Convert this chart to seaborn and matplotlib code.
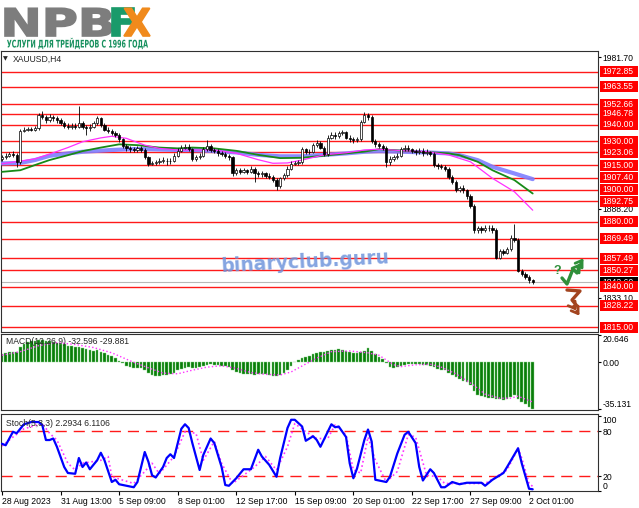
import numpy as np
import pandas as pd
import seaborn as sns
import matplotlib.pyplot as plt
from matplotlib.patches import Rectangle, PathPatch
from matplotlib.transforms import blended_transform_factory, Affine2D
from matplotlib.textpath import TextPath
from matplotlib.font_manager import FontProperties

sns.set_style('white')
plt.rcParams['font.family'] = ['Liberation Sans', 'DejaVu Sans']

# XAUUSD H4 bars
first_open = 1919.0
closes = [
    1920, 1921, 1922, 1921.5, 1917, 1936.5, 1937, 1937.5, 1937, 1938,
    1946, 1945, 1943, 1945, 1944, 1943, 1941.5, 1939.5, 1939, 1939.5,
    1939, 1941, 1939, 1938, 1939, 1941, 1944, 1940, 1937, 1936.5,
    1935, 1934, 1931, 1927, 1925.5, 1925, 1924.5, 1925.5, 1924.5, 1920,
    1916, 1916.5, 1917, 1918, 1918, 1917.5, 1918, 1921, 1924, 1926,
    1926.5, 1925, 1919, 1920, 1921, 1925, 1927, 1924.5, 1924, 1922.5,
    1922, 1921, 1920, 1910, 1912, 1911, 1912, 1911, 1913, 1910,
    1909.5, 1910, 1908.5, 1908, 1906, 1902, 1907, 1909, 1913, 1916,
    1916.5, 1917, 1925, 1923, 1923.5, 1927.5, 1929, 1926, 1922, 1932,
    1934, 1933, 1935, 1935.5, 1932, 1931, 1930.5, 1931, 1942, 1946,
    1945, 1930, 1928, 1927, 1926, 1917, 1919, 1920, 1921, 1925,
    1926, 1925, 1924, 1923, 1924, 1922.5, 1923, 1922, 1915, 1914.5,
    1914, 1913, 1908, 1905, 1900, 1901, 1899.5, 1896, 1890, 1875,
    1876, 1875, 1876, 1876.5, 1875, 1858, 1862, 1861, 1863, 1870,
    1869, 1850, 1848, 1846, 1844, 1843]
highs = [
    1921.5, 1922.5, 1923.5, 1924, 1922.5, 1937.5, 1938.5, 1939, 1939, 1939.5,
    1947.5, 1948.5, 1946, 1946.5, 1946, 1945.5, 1944, 1942.5, 1941, 1941,
    1941, 1952, 1942.5, 1940, 1940.5, 1942.5, 1945.5, 1945, 1941, 1938.5,
    1937.5, 1936.5, 1935, 1932, 1928, 1927, 1926.5, 1927, 1927, 1925.5,
    1921, 1918, 1918.5, 1919.5, 1920, 1919.5, 1919.5, 1922.5, 1925.5, 1927.5,
    1928, 1928, 1926, 1921.5, 1922.5, 1926.5, 1930.5, 1928, 1926, 1925,
    1924, 1923, 1922, 1921, 1913.5, 1913.5, 1913.5, 1913, 1914.5, 1914,
    1911.5, 1911.5, 1911, 1910, 1909, 1907, 1908, 1910.5, 1914.5, 1917.5,
    1918, 1918.5, 1926.5, 1926, 1925, 1929, 1930.5, 1930, 1927, 1933.5,
    1935.5, 1935.5, 1936.5, 1937, 1936.5, 1933.5, 1932.5, 1932.5, 1943, 1948,
    1947.5, 1946, 1931, 1929.5, 1928.5, 1927, 1920.5, 1921.5, 1922.5, 1926.5,
    1927.5, 1927.5, 1926, 1925, 1926, 1925.5, 1925, 1924, 1923, 1916.5,
    1916, 1915, 1914, 1909, 1906, 1902.5, 1903, 1900.5, 1897, 1891,
    1877.5, 1877.5, 1878, 1878, 1878, 1876, 1863.5, 1863.5, 1864.5, 1872,
    1879, 1870, 1851, 1849, 1847, 1845]
lows = [
    1917.5, 1919, 1920, 1920, 1914, 1916, 1935.5, 1936, 1936, 1936,
    1937, 1943.5, 1941.5, 1942, 1942.5, 1941.5, 1940, 1938, 1937.5, 1937.5,
    1937.5, 1938, 1937.5, 1933.5, 1936.5, 1938, 1940, 1939, 1936, 1935,
    1933.5, 1932.5, 1929.5, 1925.5, 1924, 1923.5, 1923, 1923, 1923, 1919,
    1914.5, 1915, 1915, 1916, 1916.5, 1915.5, 1916, 1917, 1920, 1923,
    1925, 1924, 1918, 1917.5, 1919, 1920, 1924, 1923.5, 1922.5, 1921,
    1920.5, 1919.5, 1918.5, 1908.5, 1909, 1909.5, 1910, 1909.5, 1910, 1905,
    1908, 1908, 1907, 1906.5, 1904.5, 1899.5, 1901, 1906, 1908, 1912,
    1915, 1915, 1916, 1922, 1922, 1922.5, 1926.5, 1925, 1921, 1921,
    1931, 1931.5, 1932, 1934, 1931, 1929.5, 1929, 1929.5, 1930, 1941,
    1943, 1929, 1926.5, 1925.5, 1924.5, 1914, 1915.5, 1918, 1919, 1920,
    1924, 1924, 1922.5, 1921.5, 1922, 1921, 1921.5, 1920.5, 1914, 1913,
    1912.5, 1911.5, 1906.5, 1903.5, 1898.5, 1898.5, 1898, 1894.5, 1888.5, 1873.5,
    1873.5, 1873.5, 1874, 1874.5, 1873.5, 1857, 1857, 1859.5, 1860, 1862,
    1867.5, 1849, 1846.5, 1844.5, 1842.5, 1841.5]

levels = [1972.85, 1963.55, 1952.66, 1946.78, 1940.00, 1930.00, 1923.06, 1915.00,
          1907.40, 1900.00, 1892.75, 1880.00, 1869.49, 1857.49, 1850.27, 1840.00,
          1828.22, 1815.00]
scale_ticks = [1981.70, 1888.20, 1833.10]
bid = 1842.6

# moving averages (bar index, value)
ma_slow_bar = [0, 5, 9, 13, 18, 22, 30, 36, 40, 48, 52, 58, 64, 70, 76, 82, 88, 94, 99,
               103, 110, 116, 122, 125, 130, 134, 140, 145]
ma_slow_val = [1916.2, 1916.5, 1918.3, 1920.9, 1922.4, 1923.4, 1924.5, 1925.1, 1925, 1924.5,
               1924.5, 1923.8, 1923, 1921.5, 1920.6, 1920.6, 1921.5, 1922.4, 1923.4,
               1923.8, 1923.4, 1923, 1922.4, 1921.3, 1918.2, 1914.1, 1910, 1906.5]
ma_mid_bar = [0, 5, 9, 13, 18, 22, 27, 32, 37, 43, 48, 52, 58, 64, 70, 76, 82, 88, 94, 99,
              103, 110, 116, 122, 125, 130, 134, 140, 145]
ma_mid_val = [1911, 1912, 1915.2, 1918.3, 1921.3, 1923.8, 1926, 1928, 1927.5, 1926, 1925.5,
              1926, 1925.5, 1924, 1921.5, 1919.5, 1919.7, 1921, 1922.4, 1923.5,
              1925, 1924, 1923.2, 1922.4, 1921.3, 1917.2, 1912, 1905.9, 1897.6]
ma_fast_bar = [0, 9, 13, 18, 22, 27, 30, 34, 39, 43, 48, 52, 58, 64, 70, 74, 78, 82, 88, 94,
               99, 103, 110, 116, 122, 128, 134, 140, 145]
ma_fast_val = [1916, 1919, 1922, 1926, 1929.6, 1932, 1933, 1931.7, 1927.5, 1925.5, 1924.5,
               1924.5, 1924.5, 1922.5, 1918.5, 1916.3, 1916.5, 1918.3, 1921.5, 1922.8,
               1924.5, 1925, 1924, 1923.5, 1921.5, 1917.2, 1907, 1898.7, 1887.3]

# MACD histogram per bar and signal line
macd_hist = [
    6.3, 6.8, 7.6, 8.1, 7.6, 11.4, 14.0, 15.3, 15.8, 15.8,
    16.5, 16.6, 16.0, 15.8, 15.3, 14.7, 14.0, 13.5, 12.7, 12.2,
    11.9, 11.9, 10.6, 10.1, 9.6, 8.9, 9.4, 8.1, 7.1, 5.9,
    4.6, 3.1, 1.4, -0.5, -2.4, -3.7, -4.1, -4.1, -4.4, -5.4,
    -7.9, -9.5, -9.9, -9.9, -9.5, -9.2, -8.6, -7.9, -6.1, -4.9,
    -4.1, -3.6, -4.4, -4.1, -3.6, -2.4, -1.6, -1.4, -1.9, -1.9,
    -2.4, -2.9, -3.6, -6.1, -7.4, -8.1, -8.9, -8.9, -8.9, -9.2,
    -8.9, -8.9, -8.9, -9.5, -10.4, -9.9, -9.5, -7.9, -5.4, -2.4,
    0.1, 1.8, 3.1, 3.9, 5.1, 6.4, 6.8, 7.6, 7.6, 8.9,
    9.4, 9.6, 10.2, 9.6, 8.6, 7.6, 7.1, 7.1, 7.6, 8.9,
    10.6, 8.4, 6.4, 3.9, 2.2, -0.6, -3.6, -4.1, -3.6, -2.4,
    -1.9, -1.4, -1.2, -1.4, -1.4, -1.6, -1.9, -2.4, -3.6, -4.9,
    -5.4, -6.1, -7.9, -9.5, -11.2, -12.4, -13.7, -14.9, -16.9, -21.2,
    -24.5, -25.5, -26.2, -26.7, -27.0, -27.5, -27.5, -28.0, -27.5, -26.2,
    -24.9, -27.5, -30.0, -31.2, -33.5, -35.1]
macd_sig_bar = [0, 5, 10, 15, 20, 25, 30, 33, 36, 40, 44, 48, 52, 56, 60, 64, 68, 72, 76,
                79, 82, 86, 90, 95, 100, 103, 105, 107, 109, 113, 117, 120, 124, 129,
                132, 136, 139, 141, 145]
macd_sig_val = [5.4, 8.1, 12.6, 14.9, 13.5, 11.2, 7.2, 3.6, 0, -4.1, -8.1, -8.6, -5.9, -3.6,
                -2.5, -4.5, -7.7, -9, -9.5, -7.2, -2.7, 3.2, 8.1, 8.6, 7.2, 5.4, 1.8,
                -1.8, -3.2, -1.8, -1.4, -3.6, -8.6, -17.4, -24, -27, -27, -25.5, -29.9]

# Stochastic(5,3,3) main and signal (bar index, value)
st_main_bar = [0, 1, 2, 3, 4, 5, 6, 8, 10, 11, 12, 13, 14, 15, 17, 18, 20, 21, 22, 23, 24,
               26, 27, 28, 30, 31, 32, 34, 36, 37, 39, 40, 41, 42, 44, 45, 46, 47, 49, 50,
               51, 52, 54, 55, 57, 58, 60, 61, 62, 64, 66, 68, 70, 71, 73, 75, 76, 78, 79,
               80, 82, 83, 85, 86, 87, 90, 91, 92, 94, 95, 96, 97, 99, 100, 101, 102, 105,
               106, 108, 110, 111, 113, 114, 115, 117, 118, 120, 121, 123, 125, 127, 131,
               132, 134, 137, 138, 141, 142, 144, 145]
st_main_val = [63, 61, 70, 79, 77, 83, 89, 92, 92, 88, 68, 68, 70, 59, 32, 24, 23, 44, 32, 38,
               29, 41, 51, 41, 12, 15, 9, 7, 5, 12, 52, 39, 21, 18, 32, 44, 49, 44, 83, 89,
               84, 64, 28, 48, 70, 64, 32, 8, 7, 17, 29, 29, 55, 46, 35, 19, 44, 84, 95,
               95, 86, 67, 73, 68, 59, 89, 85, 86, 72, 37, 17, 30, 68, 82, 66, 15, 12,
               19, 50, 75, 79, 64, 32, 14, 29, 24, 5, 5, 12, 9, 11, 11,
               7, 15, 24, 32, 57, 37, 3, 2.29]
st_sig_bar = [0, 3, 6, 11, 13, 15, 18, 20, 22, 27, 29, 30, 36, 39, 41, 43, 47, 50, 53, 55,
              58, 60, 63, 66, 69, 72, 75, 78, 80, 83, 86, 89, 91, 94, 96, 98, 100, 102,
              105, 108, 111, 113, 116, 119, 121, 123, 132, 135, 138, 141, 142, 144, 145]
st_sig_val = [60, 72, 83, 90, 77, 68, 37, 28, 37, 41, 46, 19, 10, 26, 37, 23, 46, 79, 77, 41,
              66, 37, 10, 21, 32, 46, 28, 59, 90, 79, 70, 70, 88, 75, 28, 24, 72, 41,
              12, 26, 75, 72, 21, 19, 10, 10, 10, 19, 28, 57, 44, 10, 6.11]

tick_bars = [0, 16, 32, 48, 64, 80, 96, 112, 128, 144]
tick_labels = ['28 Aug 2023', '31 Aug 13:00', '5 Sep 09:00', '8 Sep 01:00', '12 Sep 17:00',
               '15 Sep 09:00', '20 Sep 01:00', '22 Sep 17:00', '27 Sep 09:00', '2 Oct 01:00']

df = pd.DataFrame({'close': closes, 'high': highs, 'low': lows})
df['bar'] = np.arange(len(df))
df['open'] = [first_open] + closes[:-1]
up = df[df['close'] >= df['open']]
dn = df[df['close'] < df['open']]

W, H = 639, 508
fig = plt.figure(figsize=(6.39, 5.08), dpi=100)
fig.patch.set_facecolor('white')
ax = fig.add_axes([1 / W, (H - 332) / H, 597 / W, 281 / H])
ax2 = fig.add_axes([1 / W, (H - 410) / H, 597 / W, 76 / H])
ax3 = fig.add_axes([1 / W, (H - 491) / H, 597 / W, 77 / H])
xlim = (-0.273, 162.84)
fs = 6.2

for a in (ax, ax2, ax3):
    a.set_xlim(*xlim)
    for s in a.spines.values():
        s.set_color('#303030')
        s.set_linewidth(0.8)
    a.yaxis.tick_right()
    a.tick_params(axis='y', which='both', direction='out', length=2, pad=1.5,
                  labelsize=fs, colors='black')

# ---- price panel
ax.set_ylim(1812, 1985.7)
for lv in levels:
    ax.axhline(lv, color='#ff1a1a', lw=1.0, zorder=1)
ax.axhline(bid, color='#b8b8b8', lw=0.8, zorder=2)

sns.lineplot(x=ma_slow_bar, y=ma_slow_val, ax=ax, color='#7f7fff', linewidth=3.0,
             alpha=0.9, zorder=3, errorbar=None)
sns.lineplot(x=ma_mid_bar, y=ma_mid_val, ax=ax, color='#178a17', linewidth=1.3,
             zorder=3, errorbar=None)
sns.lineplot(x=ma_fast_bar, y=ma_fast_val, ax=ax, color='#ff30ff', linewidth=0.9,
             zorder=3, errorbar=None)

ax.vlines(df['bar'], df['low'], df['high'], color='black', lw=0.6, zorder=4)
ax.bar(up['bar'], np.maximum(up['close'] - up['open'], 0.35), bottom=up['open'], width=0.62,
       color='white', edgecolor='black', linewidth=0.5, zorder=5)
ax.bar(dn['bar'], dn['open'] - dn['close'], bottom=dn['close'], width=0.62,
       color='black', edgecolor='black', linewidth=0.5, zorder=5)
ax.set_xlim(*xlim)
ax.set_xticks([])
ax.set_xlabel('')
ax.set_ylabel('')

ax.set_yticks(scale_ticks, [f'{v:.2f}' for v in scale_ticks])
tr = blended_transform_factory(ax.transAxes, ax.transData)
box_h = 11 / 1.618
ax.add_patch(Rectangle((1.0034, bid - box_h / 2), 0.063, box_h, transform=tr,
                       facecolor='black', edgecolor='none', clip_on=False, zorder=9))
ax.text(1.0067, bid, f'{bid:.2f}', transform=tr, color='white', fontsize=fs,
        va='center', ha='left', clip_on=False, zorder=9)
for lv in levels:
    ax.add_patch(Rectangle((1.0034, lv - box_h / 2), 0.063, box_h, transform=tr,
                           facecolor='#ff0000', edgecolor='none', clip_on=False, zorder=10))
    ax.text(1.0067, lv, f'{lv:.2f}', transform=tr, color='white', fontsize=fs,
            va='center', ha='left', clip_on=False, zorder=11)

ax.text(0.004, 0.9715, '\u25bc', transform=ax.transAxes, fontsize=4.5, va='center',
        family='DejaVu Sans')
ax.text(0.02, 0.9715, 'XAUUSD,H4', transform=ax.transAxes, fontsize=fs, va='center')

ax.text(0.509, 0.249, 'binaryclub.guru', transform=ax.transAxes, fontsize=13.5,
        fontweight='bold', color='#6f95dc', alpha=0.85, ha='center', va='center',
        rotation=3, family='DejaVu Sans', zorder=8)


def px(x, y):
    return ((x - 1) / 597, (332 - y) / 281)


green = '#2f8f3a'
brown = '#a3441f'
gp = [px(*p) for p in [(562, 278), (567, 284), (573, 269), (577, 273), (581, 264)]]
ax.plot([p[0] for p in gp], [p[1] for p in gp], transform=ax.transAxes, color=green,
        lw=2.4, clip_on=False, zorder=12)
for tip, tail in [((585, 256), (579, 265)), ((582, 261), (576, 270))]:
    ax.annotate('', xy=px(*tip), xytext=px(*tail), xycoords='axes fraction',
                arrowprops=dict(arrowstyle='->,head_length=0.45,head_width=0.3',
                                color=green, lw=2.0), zorder=12)
ax.text(*px(557, 271), '?', transform=ax.transAxes, fontsize=9, color=green,
        ha='center', va='center', fontweight='bold', zorder=12)
bp = [px(*p) for p in [(567, 290), (580, 291), (572, 300), (577, 306)]]
ax.plot([p[0] for p in bp], [p[1] for p in bp], transform=ax.transAxes, color=brown,
        lw=2.4, clip_on=False, zorder=12)
for tip, tail in [((581, 318), (575, 309)), ((578, 313), (572, 304))]:
    ax.annotate('', xy=px(*tip), xytext=px(*tail), xycoords='axes fraction',
                arrowprops=dict(arrowstyle='->,head_length=0.45,head_width=0.3',
                                color=brown, lw=2.0), zorder=12)

# ---- MACD panel
ax2.set_ylim(-35.9, 21.4)
ax2.bar(df['bar'], macd_hist, width=0.72, color='#0a7d0a', edgecolor='#86d486',
        linewidth=0.3, zorder=2)
sns.lineplot(x=macd_sig_bar, y=macd_sig_val, ax=ax2, color='#ff33ff', linewidth=1.0,
             linestyle=':', zorder=3, errorbar=None)
ax2.set_xlim(*xlim)
ax2.set_xticks([])
ax2.set_yticks([20.646, 0, -35.131], ['20.646', '0.00', '-35.131'])
yl = ax2.get_yticklabels()
yl[0].set_va('top')
yl[2].set_va('bottom')
ax2.text(0.008, 0.897, 'MACD(12,26,9) -32.596 -29.881', transform=ax2.transAxes,
         fontsize=fs, va='center', zorder=5)
ax2.set_xlabel('')
ax2.set_ylabel('')

# ---- Stochastic panel
ax3.set_ylim(0, 102.7)
for lv in (80, 20):
    ax3.axhline(lv, color='#ff1a1a', lw=1.0, dashes=(8, 5), zorder=1)
sns.lineplot(x=st_sig_bar, y=st_sig_val, ax=ax3, color='#ff33ff', linewidth=1.2,
             linestyle=':', zorder=2, errorbar=None)
sns.lineplot(x=st_main_bar, y=st_main_val, ax=ax3, color='#0000ff', linewidth=1.6,
             zorder=3, errorbar=None)
ax3.set_xlim(*xlim)
ax3.set_yticks([100, 80, 20, 0], ['100', '80', '20', '0'])
yl = ax3.get_yticklabels()
yl[0].set_va('top')
yl[3].set_va('bottom')
ax3.set_xticks(tick_bars, tick_labels)
ax3.tick_params(axis='x', direction='out', length=3, pad=1.5, labelsize=fs, colors='black',
                bottom=True)
for lab in ax3.get_xticklabels():
    lab.set_ha('left')
ax3.text(0.008, 0.883, 'Stoch(5,3,3) 2.2934 6.1106', transform=ax3.transAxes,
         fontsize=fs, va='center', zorder=5)
ax3.set_xlabel('')
ax3.set_ylabel('')


# ---- logo, drawn as text paths so it can be stretched like the original
def logo_text(s, left, baseline, width, size, color, weight='bold', stroke=0.0):
    fp = FontProperties(family='DejaVu Sans', weight=weight)
    path = TextPath((0, 0), s, size=size, prop=fp)
    ext = path.get_extents()
    sx = width / ext.width
    t = Affine2D().translate(-ext.x0, 0).scale(sx, 1).translate(left, H - baseline)
    fig.add_artist(PathPatch(path, transform=t, facecolor=color, edgecolor=color,
                             lw=stroke))


logo_text('NPB', 5, 36, 107, 38, '#7d7d7d', stroke=1.2)
logo_text('F', 112, 36, 22, 38, '#1a9a6a', stroke=1.2)
logo_text('X', 124, 36, 26, 38, '#f08a1c', stroke=1.2)
logo_text('УСЛУГИ ДЛЯ ТРЕЙДЕРОВ С 1996 ГОДА', 7, 47.5, 141, 10.5, '#17905e')

fig.savefig('out.png', dpi=100, facecolor='white')
